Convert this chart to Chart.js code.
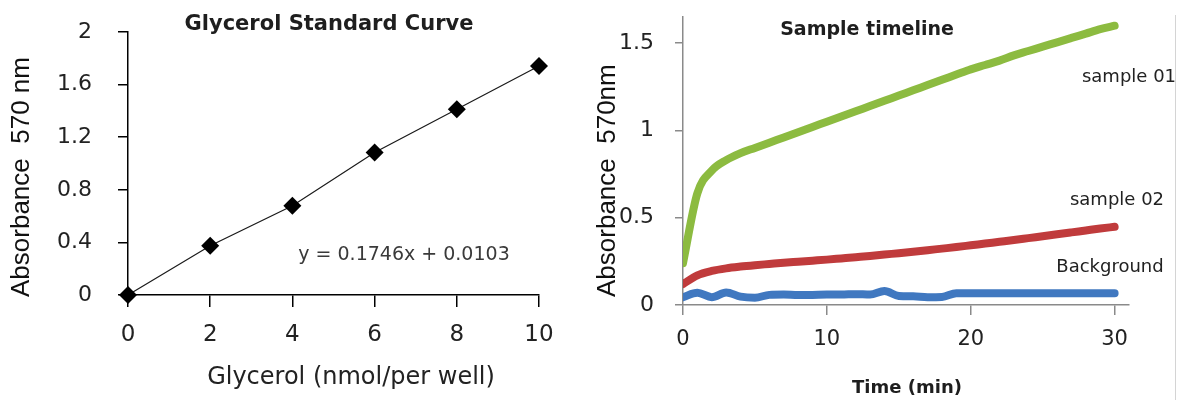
<!DOCTYPE html>
<html>
<head>
<meta charset="utf-8">
<title>Glycerol standard curve and sample timeline</title>
<script src="https://cdn.jsdelivr.net/npm/chart.js@4.4.1/dist/chart.umd.min.js"></script>
<style>
  html, body { margin: 0; padding: 0; background: #fff; }
  body { width: 1179px; height: 400px; position: relative; overflow: hidden; }
  .panel { position: absolute; top: 0; height: 400px; }
  #left-panel { left: 0; width: 590px; }
  #right-panel { left: 590px; width: 589px; }
  .edge-line { position: absolute; left: 1175px; top: 15px; height: 385px; border-left: 1px solid #d4d4d4; }
</style>
</head>
<body>
<div class="panel" id="left-panel"><canvas id="standardChart" width="590" height="400"></canvas></div>
<div class="panel" id="right-panel"><canvas id="timelineChart" width="589" height="400"></canvas></div>
<div class="edge-line"></div>

<script>
// --- Glycerol standard curve ---
const glycerolAmounts = [0, 2, 4, 6, 8, 10];
const standardAbsorbance = [0, 0.374, 0.678, 1.083, 1.412, 1.741];
const standardXTicks = [0, 2, 4, 6, 8, 10];
const standardYTicks = [0, 0.4, 0.8, 1.2, 1.6, 2];
const fitEquation = 'y = 0.1746x + 0.0103';

// --- Sample timeline ---
const timeMinutes = [0, 1, 2, 3, 4, 5, 6, 7, 8, 9, 10, 11, 12, 13, 14, 15,
  16, 17, 18, 19, 20, 21, 22, 23, 24, 25, 26, 27, 28, 29, 30];
const sample01 = [0.24, 0.64, 0.77, 0.83, 0.87, 0.90, 0.93, 0.96, 0.99, 1.02, 1.05,
  1.08, 1.11, 1.14, 1.17, 1.20, 1.23, 1.26, 1.29, 1.32, 1.35,
  1.375, 1.40, 1.43, 1.455, 1.48, 1.505, 1.53, 1.555, 1.58, 1.60];
const sample02 = [0.12, 0.17, 0.195, 0.21, 0.22, 0.228, 0.235, 0.242, 0.248, 0.254, 0.26,
  0.267, 0.274, 0.281, 0.289, 0.297, 0.305, 0.314, 0.323, 0.332, 0.342,
  0.352, 0.362, 0.372, 0.383, 0.394, 0.405, 0.416, 0.427, 0.438, 0.448];
const background = [0.045, 0.07, 0.045, 0.072, 0.048, 0.042, 0.058, 0.06, 0.057, 0.058, 0.06,
  0.06, 0.062, 0.06, 0.08, 0.052, 0.05, 0.045, 0.046, 0.068, 0.068,
  0.068, 0.068, 0.068, 0.068, 0.068, 0.068, 0.067, 0.067, 0.067, 0.067];
const timelineXTicks = [0, 10, 20, 30];
const timelineYTicks = [0, 0.5, 1, 1.5];
const seriesNames = ['sample 01', 'sample 02', 'Background'];

// --- Helpers ---

const pairs = (xs, ys) => xs.map((x, i) => ({ x, y: ys[i] }));
const fixedTicks = values => scale => { scale.ticks = values.map(value => ({ value })); };

// fixed axis box size; drop the label overflow padding so the plot keeps its top
const fitBox = (prop, size) => scale => {
  scale[prop] = size;
  scale.paddingTop = 0;
  scale.paddingBottom = 0;
};

// free text (titles, axis names, labels) drawn onto the canvas
const chartTexts = {
  id: 'chartTexts',
  afterDraw(chart, args, opts) {
    const ctx = chart.ctx;
    (opts.items || []).forEach(item => {
      ctx.save();
      ctx.font = item.font;
      ctx.fillStyle = item.color || '#222';
      ctx.textAlign = item.align || 'center';
      ctx.textBaseline = 'middle';
      ctx.translate(item.x, item.y);
      if (item.rotate) ctx.rotate(item.rotate);
      ctx.fillText(item.text, 0, 0);
      ctx.restore();
    });
  },
};

const DEJAVU = "'DejaVu Sans', sans-serif";
const ARIAL = "'Liberation Sans', Arial, sans-serif";

// --- Left: standard curve ---

new Chart(document.getElementById('standardChart'), {
  type: 'scatter',
  data: {
    datasets: [{
      label: 'Glycerol standard',
      data: pairs(glycerolAmounts, standardAbsorbance),
      showLine: true,
      borderColor: '#1a1a1a',
      borderWidth: 1.2,
      pointStyle: 'rectRot',
      pointRadius: 9,
      pointBackgroundColor: '#000',
      pointBorderColor: '#000',
      pointBorderWidth: 0,
      clip: false,
    }],
  },
  plugins: [chartTexts],
  options: {
    responsive: false,
    animation: false,
    devicePixelRatio: 1,
    layout: { padding: { top: 32, right: 51, bottom: 0, left: 0 } },
    plugins: {
      legend: { display: false },
      tooltip: { enabled: false },
      chartTexts: {
        items: [
          { text: 'Glycerol Standard Curve', x: 329, y: 25, font: `bold 21px ${DEJAVU}`, color: '#1e1e1e' },
          { text: 'Absorbance  570 nm', x: 22, y: 297, font: `26px ${ARIAL}`, align: 'left', rotate: -Math.PI / 2, color: '#111' },
          { text: 'Glycerol (nmol/per well)', x: 351, y: 378, font: `24px ${DEJAVU}`, color: '#222' },
          { text: fitEquation, x: 404, y: 255, font: `19px ${DEJAVU}`, color: '#3a3a3a' },
        ],
      },
    },
    scales: {
      x: {
        type: 'linear',
        min: 0,
        max: 10,
        afterBuildTicks: fixedTicks(standardXTicks),
        afterFit: scale => { scale.height = 105; },
        border: { display: true, color: '#000', width: 1.5 },
        grid: { drawOnChartArea: false, tickLength: 12, color: '#000', lineWidth: 1.5 },
        ticks: { padding: 14, color: '#222', font: { family: DEJAVU, size: 23 }, callback: v => String(v) },
      },
      y: {
        min: 0,
        max: 2,
        afterBuildTicks: fixedTicks(standardYTicks),
        afterFit: fitBox('width', 128),
        border: { display: true, color: '#000', width: 1.5 },
        grid: { drawOnChartArea: false, tickLength: 10, color: '#000', lineWidth: 1.5 },
        ticks: { padding: 26, color: '#222', font: { family: DEJAVU, size: 22 }, callback: v => String(v) },
      },
    },
  },
});

// --- Right: sample timeline ---

new Chart(document.getElementById('timelineChart'), {
  type: 'line',
  data: {
    datasets: [
      { label: seriesNames[2], data: pairs(timeMinutes, background), borderColor: '#4078c0' },
      { label: seriesNames[1], data: pairs(timeMinutes, sample02), borderColor: '#c03b3c' },
      { label: seriesNames[0], data: pairs(timeMinutes, sample01), borderColor: '#8cbb40' },
    ],
  },
  plugins: [chartTexts],
  options: {
    responsive: false,
    animation: false,
    devicePixelRatio: 1,
    layout: { padding: { top: 17, right: 50, bottom: 0, left: 0 } },
    elements: {
      line: { borderWidth: 8, cubicInterpolationMode: 'monotone', borderCapStyle: 'round', fill: false },
      point: { radius: 0 },
    },
    plugins: {
      legend: { display: false },
      tooltip: { enabled: false },
      chartTexts: {
        items: [
          { text: 'Sample timeline', x: 277, y: 30, font: `bold 19px ${DEJAVU}`, color: '#1e1e1e' },
          { text: 'Absorbance  570nm', x: 18, y: 297, font: `26px ${ARIAL}`, align: 'left', rotate: -Math.PI / 2, color: '#111' },
          { text: 'Time (min)', x: 317, y: 388, font: `bold 18px ${DEJAVU}`, color: '#1e1e1e' },
          { text: seriesNames[0], x: 539, y: 77, font: `18px ${DEJAVU}`, color: '#222' },
          { text: seriesNames[1], x: 527, y: 200, font: `18px ${DEJAVU}`, color: '#222' },
          { text: seriesNames[2], x: 520, y: 267, font: `18px ${DEJAVU}`, color: '#222' },
        ],
      },
    },
    scales: {
      x: {
        type: 'linear',
        min: 0,
        max: 31,
        afterBuildTicks: fixedTicks(timelineXTicks),
        afterFit: scale => { scale.height = 95; },
        border: { display: true, color: '#8a8a8a', width: 1.5 },
        grid: { drawOnChartArea: false, tickLength: 10, color: '#8a8a8a', lineWidth: 1.5 },
        ticks: { padding: 12, color: '#222', font: { family: DEJAVU, size: 21 }, callback: v => String(v) },
      },
      y: {
        min: 0,
        max: 1.65,
        afterBuildTicks: fixedTicks(timelineYTicks),
        afterFit: fitBox('width', 93),
        border: { display: true, color: '#8a8a8a', width: 1.5 },
        grid: { drawOnChartArea: false, tickLength: 8, color: '#8a8a8a', lineWidth: 1.5 },
        ticks: { padding: 21, color: '#222', font: { family: DEJAVU, size: 22 }, callback: v => String(v) },
      },
    },
  },
});
</script>
</body>
</html>
